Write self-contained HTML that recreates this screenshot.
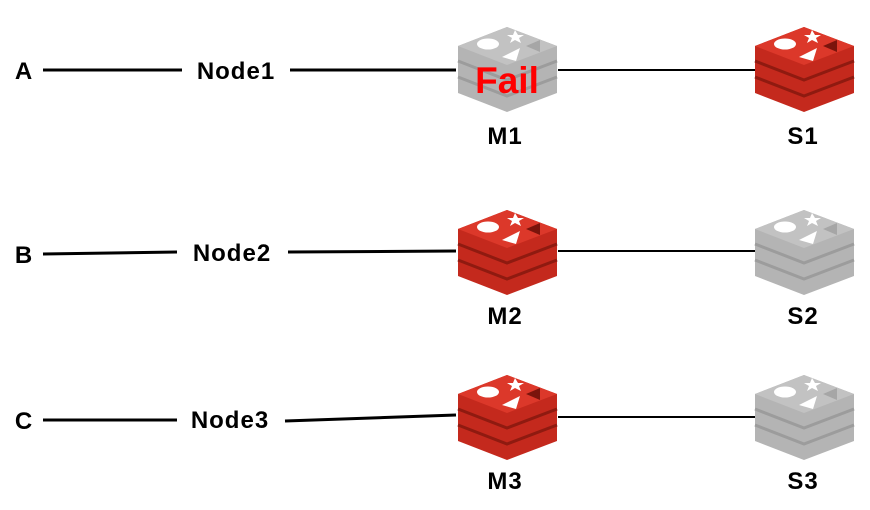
<!DOCTYPE html>
<html><head><meta charset="utf-8"><style>
html,body{margin:0;padding:0;background:#fff;}
svg{display:block}
text{font-family:"Liberation Sans","DejaVu Sans",sans-serif;font-weight:bold;}
</style></head><body>
<svg width="870" height="510" viewBox="0 0 870 510" xmlns="http://www.w3.org/2000/svg">
<defs>
<g id="red">
 <polygon points="49,0 99,19 99,66 49,85 0,66 0,19" fill="#c4291d"/>
 <polyline points="0,34 49,53 99,34" fill="none" stroke="#8f1a10" stroke-width="3"/>
 <polyline points="0,50 49,69 99,50" fill="none" stroke="#8f1a10" stroke-width="3"/>
 <polygon points="49,0 99,19 49,38 0,19" fill="#dc382a"/>
 <ellipse cx="30" cy="17" rx="11" ry="5.5" fill="#fff"/>
 <polygon points="57,3 60,8 66,8 61,11 63,16 57,13 52,16 54,11 49,8 55,8" fill="#fff"/>
 <polygon points="44,30 62,21 58,34" fill="#fff"/>
 <polygon points="68,19 82,13 82,25" fill="#7a140c"/>
</g>
<g id="gray">
 <polygon points="49,0 99,19 99,66 49,85 0,66 0,19" fill="#b4b4b4"/>
 <polyline points="0,34 49,53 99,34" fill="none" stroke="#9c9c9c" stroke-width="3"/>
 <polyline points="0,50 49,69 99,50" fill="none" stroke="#9c9c9c" stroke-width="3"/>
 <polygon points="49,0 99,19 49,38 0,19" fill="#c2c2c2"/>
 <ellipse cx="30" cy="17" rx="11" ry="5.5" fill="#fff"/>
 <polygon points="57,3 60,8 66,8 61,11 63,16 57,13 52,16 54,11 49,8 55,8" fill="#fff"/>
 <polygon points="44,30 62,21 58,34" fill="#fff"/>
 <polygon points="68,19 82,13 82,25" fill="#a6a6a6"/>
</g>
</defs>
<g stroke="#000" stroke-width="3">
 <line x1="43" y1="70" x2="182" y2="70"/>
 <line x1="290" y1="70" x2="456" y2="70"/>
 <line x1="43" y1="254" x2="177" y2="252"/>
 <line x1="288" y1="252" x2="456" y2="251"/>
 <line x1="43" y1="420" x2="177" y2="420"/>
 <line x1="285" y1="421" x2="456" y2="415"/>
</g>
<g stroke="#000" stroke-width="2">
 <line x1="558" y1="70" x2="756" y2="70"/>
 <line x1="558" y1="251" x2="756" y2="251"/>
 <line x1="558" y1="417" x2="756" y2="417"/>
</g>
<use href="#gray" x="458" y="27"/>
<use href="#red" x="755" y="27"/>
<use href="#red" x="458" y="210"/>
<use href="#gray" x="755" y="210"/>
<use href="#red" x="458" y="375"/>
<use href="#gray" x="755" y="375"/>
<text x="507" y="93" font-size="37" fill="#ff0000" text-anchor="middle">Fail</text>
<g font-size="24" fill="#000" text-anchor="middle" letter-spacing="1">
 <text x="24" y="79">A</text>
 <text x="236" y="79">Node1</text>
 <text x="505" y="144">M1</text>
 <text x="803" y="144">S1</text>
 <text x="24" y="263">B</text>
 <text x="232" y="261">Node2</text>
 <text x="505" y="324">M2</text>
 <text x="803" y="324">S2</text>
 <text x="24" y="429">C</text>
 <text x="230" y="428">Node3</text>
 <text x="505" y="489">M3</text>
 <text x="803" y="489">S3</text>
</g>
</svg>
</body></html>
